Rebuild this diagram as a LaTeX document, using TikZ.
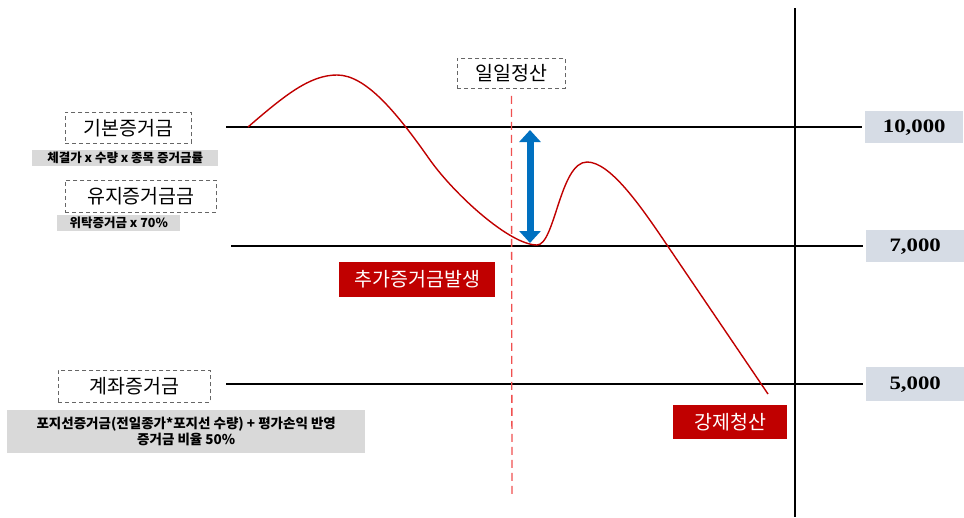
\documentclass[tikz,border=0pt]{standalone}
\usepackage{fontspec}
\usepackage{graphicx}
\setmainfont{Noto Sans CJK KR}
\newfontfamily\valfont{Liberation Serif}
\usetikzlibrary{arrows.meta,positioning}
\definecolor{mred}{HTML}{C00000}
\definecolor{dashred}{HTML}{F05050}
\definecolor{mblue}{HTML}{0070C0}
\definecolor{valbg}{HTML}{D6DCE5}
\definecolor{notebg}{HTML}{D9D9D9}

\begin{document}
\begin{tikzpicture}[x=1pt,y=-1pt,
  tag/.style={draw=gray!80!black,dash pattern=on 4pt off 3pt,line width=.8pt,inner sep=0pt,anchor=north west,font=\fontsize{19.5}{22}\selectfont},
  note/.style={fill=notebg,inner sep=0pt,anchor=north west,font=\bfseries\fontsize{12.5}{15}\selectfont},
  alert/.style={fill=mred,text=white,inner sep=0pt,anchor=north west,font=\fontsize{19.5}{22}\selectfont},
  val/.style={fill=valbg,inner sep=0pt,anchor=north west,minimum width=98pt,font=\valfont\bfseries\fontsize{19}{22}\selectfont},
  level/.style={line width=1.5pt}]
\useasboundingbox (0,0) rectangle (964,517);
% margin labels
\node[tag,minimum width=126pt,minimum height=31pt] (basic) at (65,112) {기본증거금};
\node[note,minimum width=186pt,minimum height=16pt] (basicnote) at (32,150) {체결가 x 수량 x 종목 증거금률};
\node[tag,minimum width=151pt,minimum height=32pt] (maint) at (65,180) {유지증거금금};
\node[note,minimum width=123pt,minimum height=16pt] (maintnote) at (57,215) {위탁증거금 x 70\%};
\node[tag,minimum width=152pt,minimum height=32pt] (acct) at (58,370) {계좌증거금};
\node[note,minimum width=358pt,minimum height=43pt,align=center,font=\bfseries\fontsize{13.5}{16}\selectfont] (acctnote) at (7,410) {포지선증거금(전일종가*포지선 수량) + 평가손익 반영\\증거금 비율 50\%};
\node[tag,minimum width=108pt,minimum height=30pt] (daily) at (457,58) {일일정산};
% events
\node[alert,minimum width=156pt,minimum height=35pt] (addm) at (339,262) {추가증거금발생};
\node[alert,minimum width=114pt,minimum height=34pt] (liq) at (673,405) {강제청산};
% price levels
\node[val,minimum height=32pt] (v10) at (865,111) {\scalebox{1.2}[1]{10,000}};
\node[val,minimum height=32pt] (v7) at (866,230) {\scalebox{1.2}[1]{7,000}};
\node[val,minimum height=34pt] (v5) at (866,367) {\scalebox{1.2}[1]{5,000}};
\coordinate (l10) at (226,127);
\coordinate (l7) at (231,246);
\coordinate (l5) at (226,384);
\draw[level] (l10) -- ([xshift=-3pt]v10.west |- l10);
\draw[level] (l7) -- ([xshift=-3pt]v7.west |- l7);
\draw[level] (l5) -- ([xshift=-3pt]v5.west |- l5);
\coordinate (axtop) at (795,8);
\coordinate (axbot) at (795,517);
\draw[line width=2.8pt] (axtop) -- (axbot);
% settlement line
\coordinate (dailybot) at (512,497);
\draw[dashred,line width=1.3pt,dash pattern=on 8pt off 5pt] ([yshift=-7pt]daily.south) -- (dailybot);
% margin call gap
\coordinate (gaptop) at (530,130);
\coordinate (gapbot) at (530,243);
\draw[mblue,line width=7pt,{Triangle[width=21pt,length=12pt]}-{Triangle[width=21pt,length=12pt]}] (gaptop) -- (gapbot);
% price path
\draw[mred,line width=1.4pt,line join=round]
  (248,127) .. controls (285,95) and (310,75) .. (337,75)
  .. controls (365,75) and (395,110) .. (430,160)
  .. controls (455,195) and (510,245) .. (537,245)
  .. controls (555,245) and (560,162) .. (587,162)
  .. controls (610,162) and (640,205) .. (667,245)
  -- (768,394);
\end{tikzpicture}
\end{document}
